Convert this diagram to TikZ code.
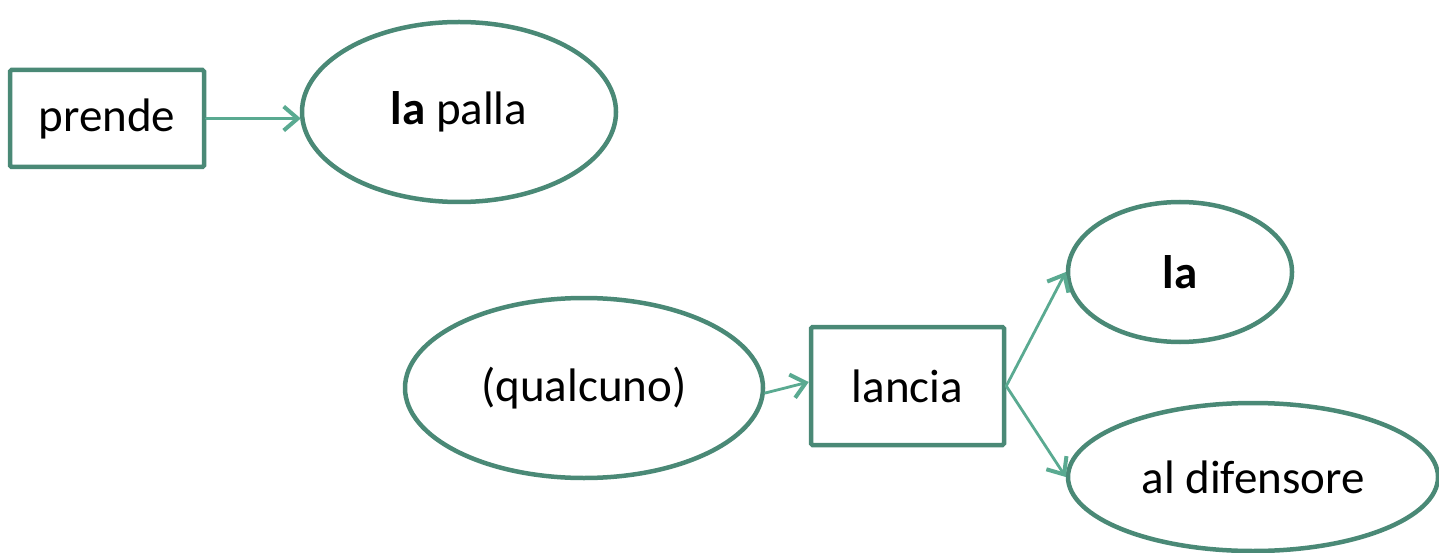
\documentclass[tikz,border=0pt]{standalone}
\usepackage{fontspec}
\setmainfont{Carlito}
\usetikzlibrary{shapes.geometric,arrows.meta}
\definecolor{edgec}{RGB}{74,137,118}
\definecolor{arrc}{RGB}{90,170,145}
\begin{document}
\begin{tikzpicture}[x=1pt,y=-1pt,
  every node/.style={font=\fontsize{47}{56}\selectfont, inner sep=0pt, text=black},
  boxn/.style={draw=edgec, line width=4.5pt, rectangle, rounded corners=1.5pt},
  elln/.style={draw=edgec, line width=4.5pt, ellipse},
  conn/.style={draw=arrc, line width=2.8pt, line cap=round,
    -{Straight Barb[length=14pt,width=24pt,line width=4pt]}}]
\useasboundingbox (0,0) rectangle (1439,553);
\node[boxn, minimum width=194pt, minimum height=97pt] (prende) at (107,118.5) {prende};
\node[elln, minimum width=314pt, minimum height=180pt] (palla) at (459,112) {\textbf{la} palla};
\node[elln, minimum width=358pt, minimum height=180pt] (qual) at (584,388) {(qualcuno)};
\node[boxn, minimum width=193pt, minimum height=118pt] (lancia) at (907.5,386) {lancia};
\node[elln, minimum width=224pt, minimum height=140pt] (la) at (1180,272) {\textbf{la}};
\node[elln, minimum width=370pt, minimum height=148pt] (dif) at (1253,477) {al difensore};
\coordinate (pallain) at ([xshift=1pt]prende.east -| palla.west);
\draw[conn] (prende.east) -- (pallain);
\draw[conn] ([yshift=-5pt]qual.east) -- ([yshift=4pt]lancia.west);
\draw[conn] (lancia.east) -- (la.west);
\draw[conn] (lancia.east) -- (dif.west);
\end{tikzpicture}
\end{document}
